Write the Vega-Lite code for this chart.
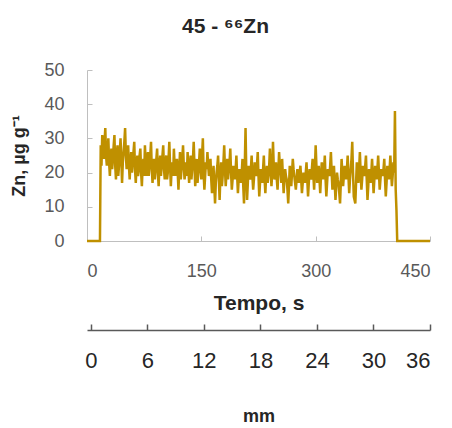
{
  "$schema": "https://vega.github.io/schema/vega-lite/v6.json",
  "width": 343,
  "height": 171,
  "autosize": "none",
  "padding": {"left": 87, "top": 70, "right": 22, "bottom": 187},
  "background": "white",
  "config": {"view": {"stroke": null}, "font": "Liberation Sans"},
  "title": {"text": "45 - ⁶⁶Zn", "fontSize": 21, "fontWeight": "bold", "font": "Liberation Sans", "color": "#262626", "anchor": "middle", "dx": -33, "offset": 24},
  "datasets": {
    "signal": [
      {"t":0,"zn":0},{"t":17,"zn":0},
      {"t":18,"zn":28},{"t":20,"zn":31},{"t":22,"zn":24},{"t":24,"zn":33},{"t":26,"zn":22},{"t":28,"zn":30},{"t":30,"zn":19},{"t":32,"zn":27},{"t":34,"zn":24},{"t":36,"zn":31},{"t":38,"zn":18},{"t":40,"zn":28},{"t":42,"zn":22},{"t":44,"zn":30},{"t":46,"zn":17},{"t":48,"zn":26},{"t":50,"zn":33},{"t":52,"zn":21},{"t":54,"zn":28},{"t":56,"zn":18},
      {"t":58,"zn":26},{"t":60,"zn":23},{"t":62,"zn":29},{"t":64,"zn":17},{"t":66,"zn":25},{"t":68,"zn":21},{"t":70,"zn":27},{"t":72,"zn":16},{"t":74,"zn":24},{"t":76,"zn":28},{"t":78,"zn":19},{"t":80,"zn":26},{"t":82,"zn":22},{"t":84,"zn":29},{"t":86,"zn":17},{"t":88,"zn":24},{"t":90,"zn":21},{"t":92,"zn":27},{"t":94,"zn":16},{"t":96,"zn":25},
      {"t":98,"zn":22},{"t":100,"zn":28},{"t":102,"zn":18},{"t":104,"zn":25},{"t":106,"zn":20},{"t":108,"zn":29},{"t":110,"zn":16},{"t":112,"zn":23},{"t":114,"zn":27},{"t":116,"zn":19},{"t":118,"zn":24},{"t":120,"zn":15},{"t":122,"zn":26},{"t":124,"zn":21},{"t":126,"zn":28},{"t":128,"zn":18},{"t":130,"zn":23},{"t":132,"zn":26},{"t":134,"zn":17},{"t":136,"zn":25},
      {"t":138,"zn":21},{"t":140,"zn":29},{"t":142,"zn":16},{"t":144,"zn":24},{"t":146,"zn":20},{"t":148,"zn":27},{"t":150,"zn":18},{"t":152,"zn":30},{"t":154,"zn":15},{"t":156,"zn":23},{"t":158,"zn":26},{"t":160,"zn":19},{"t":162,"zn":24},{"t":164,"zn":14},{"t":166,"zn":22},{"t":168,"zn":11},{"t":170,"zn":20},{"t":172,"zn":25},{"t":174,"zn":12},{"t":176,"zn":23},
      {"t":178,"zn":19},{"t":180,"zn":28},{"t":182,"zn":16},{"t":184,"zn":24},{"t":186,"zn":21},{"t":188,"zn":27},{"t":190,"zn":15},{"t":192,"zn":22},{"t":194,"zn":18},{"t":196,"zn":25},{"t":198,"zn":14},{"t":200,"zn":21},{"t":202,"zn":17},{"t":204,"zn":24},{"t":206,"zn":11},{"t":208,"zn":33},{"t":210,"zn":12},{"t":212,"zn":22},{"t":214,"zn":18},{"t":216,"zn":25},
      {"t":218,"zn":15},{"t":220,"zn":23},{"t":222,"zn":19},{"t":224,"zn":26},{"t":226,"zn":13},{"t":228,"zn":21},{"t":230,"zn":17},{"t":232,"zn":25},{"t":234,"zn":14},{"t":236,"zn":22},{"t":238,"zn":19},{"t":240,"zn":27},{"t":242,"zn":16},{"t":244,"zn":29},{"t":246,"zn":18},{"t":248,"zn":23},{"t":250,"zn":15},{"t":252,"zn":26},{"t":254,"zn":20},{"t":256,"zn":24},
      {"t":258,"zn":14},{"t":260,"zn":21},{"t":262,"zn":18},{"t":264,"zn":11},{"t":266,"zn":22},{"t":268,"zn":16},{"t":270,"zn":24},{"t":272,"zn":19},{"t":274,"zn":15},{"t":276,"zn":21},{"t":278,"zn":17},{"t":280,"zn":22},{"t":282,"zn":14},{"t":284,"zn":20},{"t":286,"zn":17},{"t":288,"zn":23},{"t":290,"zn":13},{"t":292,"zn":21},{"t":294,"zn":18},{"t":296,"zn":24},
      {"t":298,"zn":15},{"t":300,"zn":28},{"t":302,"zn":17},{"t":304,"zn":22},{"t":306,"zn":14},{"t":308,"zn":23},{"t":310,"zn":18},{"t":312,"zn":25},{"t":314,"zn":13},{"t":316,"zn":21},{"t":318,"zn":19},{"t":320,"zn":26},{"t":322,"zn":15},{"t":324,"zn":22},{"t":326,"zn":12},{"t":328,"zn":20},{"t":330,"zn":17},{"t":332,"zn":11},{"t":334,"zn":24},{"t":336,"zn":16},
      {"t":338,"zn":22},{"t":340,"zn":18},{"t":342,"zn":25},{"t":344,"zn":14},{"t":346,"zn":21},{"t":348,"zn":29},{"t":350,"zn":13},{"t":352,"zn":11},{"t":354,"zn":23},{"t":356,"zn":17},{"t":358,"zn":26},{"t":360,"zn":15},{"t":362,"zn":22},{"t":364,"zn":19},{"t":366,"zn":25},{"t":368,"zn":12},{"t":370,"zn":21},{"t":372,"zn":17},{"t":374,"zn":24},{"t":376,"zn":14},
      {"t":378,"zn":22},{"t":380,"zn":18},{"t":382,"zn":25},{"t":384,"zn":15},{"t":386,"zn":21},{"t":388,"zn":19},{"t":390,"zn":24},{"t":392,"zn":13},{"t":394,"zn":22},{"t":396,"zn":18},{"t":398,"zn":25},{"t":400,"zn":16},{"t":402,"zn":23},{"t":404,"zn":38},{"t":405,"zn":15},{"t":406,"zn":9},{"t":407,"zn":0},{"t":450,"zn":0},
      {"t":19,"zn":22},{"t":21,"zn":27},{"t":23,"zn":29},{"t":25,"zn":25},{"t":27,"zn":26},{"t":29,"zn":23},{"t":31,"zn":24},{"t":33,"zn":21},{"t":35,"zn":28},{"t":37,"zn":22},{"t":39,"zn":25},{"t":41,"zn":19},{"t":43,"zn":26},{"t":45,"zn":24},{"t":47,"zn":23},{"t":49,"zn":29},{"t":51,"zn":25},{"t":53,"zn":24},{"t":55,"zn":22},{"t":57,"zn":23},
      {"t":59,"zn":20},{"t":61,"zn":26},{"t":63,"zn":21},{"t":65,"zn":22},{"t":67,"zn":19},{"t":69,"zn":25},{"t":71,"zn":20},{"t":73,"zn":22},{"t":75,"zn":19},{"t":77,"zn":23},{"t":79,"zn":24},{"t":81,"zn":19},{"t":83,"zn":25},{"t":85,"zn":21},{"t":87,"zn":22},{"t":89,"zn":18},{"t":91,"zn":24},{"t":93,"zn":20},{"t":95,"zn":22},{"t":97,"zn":19},
      {"t":99,"zn":25},{"t":101,"zn":21},{"t":103,"zn":23},{"t":105,"zn":18},{"t":107,"zn":24},{"t":109,"zn":22},{"t":111,"zn":21},{"t":113,"zn":19},{"t":115,"zn":22},{"t":117,"zn":23},{"t":119,"zn":20},{"t":121,"zn":21},{"t":123,"zn":18},{"t":125,"zn":24},{"t":127,"zn":22},{"t":129,"zn":20},{"t":131,"zn":19},{"t":133,"zn":21},{"t":135,"zn":22},{"t":137,"zn":18},
      {"t":139,"zn":24},{"t":141,"zn":22},{"t":143,"zn":20},{"t":145,"zn":17},{"t":147,"zn":23},{"t":149,"zn":21},{"t":151,"zn":25},{"t":153,"zn":20},{"t":155,"zn":19},{"t":157,"zn":21},{"t":159,"zn":22},{"t":161,"zn":21},{"t":163,"zn":18},{"t":165,"zn":19},{"t":167,"zn":16},{"t":169,"zn":17},{"t":171,"zn":22},{"t":173,"zn":18},{"t":175,"zn":19},{"t":177,"zn":16},
      {"t":179,"zn":23},{"t":181,"zn":21},{"t":183,"zn":20},{"t":185,"zn":18},{"t":187,"zn":23},{"t":189,"zn":20},{"t":191,"zn":18},{"t":193,"zn":20},{"t":195,"zn":21},{"t":197,"zn":19},{"t":199,"zn":18},{"t":201,"zn":19},{"t":203,"zn":20},{"t":205,"zn":16},{"t":207,"zn":22},{"t":209,"zn":20},{"t":211,"zn":17},{"t":213,"zn":19},{"t":215,"zn":21},{"t":217,"zn":19},
      {"t":219,"zn":18},{"t":221,"zn":20},{"t":223,"zn":22},{"t":225,"zn":19},{"t":227,"zn":17},{"t":229,"zn":19},{"t":231,"zn":21},{"t":233,"zn":18},{"t":235,"zn":19},{"t":237,"zn":17},{"t":239,"zn":22},{"t":241,"zn":21},{"t":243,"zn":20},{"t":245,"zn":22},{"t":247,"zn":19},{"t":249,"zn":18},{"t":251,"zn":20},{"t":253,"zn":22},{"t":255,"zn":17},{"t":257,"zn":19},
      {"t":259,"zn":18},{"t":261,"zn":19},{"t":263,"zn":15},{"t":265,"zn":16},{"t":267,"zn":19},{"t":269,"zn":20},{"t":271,"zn":21},{"t":273,"zn":17},{"t":275,"zn":18},{"t":277,"zn":19},{"t":279,"zn":20},{"t":281,"zn":18},{"t":283,"zn":17},{"t":285,"zn":19},{"t":287,"zn":20},{"t":289,"zn":18},{"t":291,"zn":17},{"t":293,"zn":19},{"t":295,"zn":21},{"t":297,"zn":19},
      {"t":299,"zn":21},{"t":301,"zn":22},{"t":303,"zn":19},{"t":305,"zn":18},{"t":307,"zn":19},{"t":309,"zn":20},{"t":311,"zn":21},{"t":313,"zn":18},{"t":315,"zn":17},{"t":317,"zn":20},{"t":319,"zn":22},{"t":321,"zn":20},{"t":323,"zn":18},{"t":325,"zn":17},{"t":327,"zn":16},{"t":329,"zn":18},{"t":331,"zn":14},{"t":333,"zn":17},{"t":335,"zn":20},{"t":337,"zn":19},
      {"t":339,"zn":20},{"t":341,"zn":21},{"t":343,"zn":19},{"t":345,"zn":18},{"t":347,"zn":24},{"t":349,"zn":20},{"t":351,"zn":12},{"t":353,"zn":17},{"t":355,"zn":20},{"t":357,"zn":21},{"t":359,"zn":20},{"t":361,"zn":18},{"t":363,"zn":20},{"t":365,"zn":22},{"t":367,"zn":18},{"t":369,"zn":16},{"t":371,"zn":19},{"t":373,"zn":20},{"t":375,"zn":19},{"t":377,"zn":18},
      {"t":379,"zn":20},{"t":381,"zn":21},{"t":383,"zn":20},{"t":385,"zn":18},{"t":387,"zn":20},{"t":389,"zn":21},{"t":391,"zn":18},{"t":393,"zn":17},{"t":395,"zn":20},{"t":397,"zn":21},{"t":399,"zn":20},{"t":401,"zn":19},{"t":403,"zn":20}
    ],
    "mmscale": [{"mm": 0}, {"mm": 36}]
  },
  "layer": [
    {
      "data": {"name": "signal"},
      "mark": {"type": "line", "color": "#BF9000", "strokeWidth": 2.5, "clip": false},
      "encoding": {
        "x": {"field": "t", "type": "quantitative", "scale": {"domain": [0, 450], "nice": false},
          "axis": {"orient": "bottom", "values": [0, 150, 300, 450], "title": "Tempo, s", "grid": false,
            "labelFontSize": 18, "labelColor": "#595959", "labelFont": "Liberation Sans", "labelPadding": 26,
            "domainColor": "#BFBFBF", "tickColor": "#BFBFBF", "tickSize": -5,
            "titleFontSize": 21, "titleFontWeight": "bold", "titleColor": "#262626", "titlePadding": 12, "titleFont": "Liberation Sans"}},
        "y": {"field": "zn", "type": "quantitative", "scale": {"domain": [0, 50], "nice": false},
          "axis": {"values": [0, 10, 20, 30, 40, 50], "title": "Zn, µg g⁻¹", "grid": false,
            "labelFontSize": 18, "labelColor": "#595959", "labelFont": "Liberation Sans", "labelPadding": 28,
            "domainColor": "#BFBFBF", "tickColor": "#BFBFBF", "tickSize": -5,
            "titleFontSize": 18, "titleFontWeight": "bold", "titleColor": "#262626", "titlePadding": 15, "titleFont": "Liberation Sans"}}
      }
    },
    {
      "data": {"name": "mmscale"},
      "mark": {"type": "point", "opacity": 0},
      "encoding": {
        "x": {"field": "mm", "type": "quantitative", "scale": {"domain": [-0.4, 36], "nice": false},
          "axis": {"orient": "bottom", "offset": 89, "values": [0, 6, 12, 18, 24, 30, 36], "title": "mm", "grid": false,
            "labelFontSize": 22, "labelColor": "#262626", "labelFont": "Liberation Sans", "labelPadding": 26,
            "domainColor": "#595959", "domainWidth": 1.5, "tickColor": "#595959", "tickWidth": 1.5, "tickSize": -6,
            "titleFontSize": 18, "titleFontWeight": "bold", "titleColor": "#262626", "titlePadding": 36, "titleFont": "Liberation Sans"}}
      }
    }
  ],
  "resolve": {"scale": {"x": "independent"}, "axis": {"x": "independent"}}
}
